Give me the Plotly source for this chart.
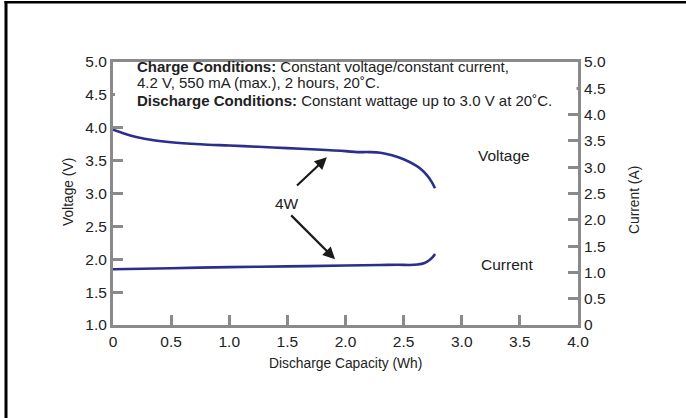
import plotly.graph_objects as go

# ---- data ----
cap_voltage = [0, 0.1, 0.2, 0.35, 0.5, 0.75, 1.0, 1.25, 1.5, 1.75, 2.0, 2.1, 2.2, 2.3, 2.4, 2.5, 2.6, 2.65, 2.7, 2.74, 2.77]
voltage = [3.97, 3.91, 3.86, 3.81, 3.78, 3.75, 3.73, 3.71, 3.69, 3.67, 3.645, 3.63, 3.63, 3.62, 3.58, 3.52, 3.43, 3.37, 3.28, 3.18, 3.08]

cap_current = [0, 0.5, 1.0, 1.5, 2.0, 2.3, 2.45, 2.55, 2.62, 2.68, 2.72, 2.75, 2.77]
current = [1.06, 1.08, 1.10, 1.115, 1.13, 1.14, 1.145, 1.14, 1.15, 1.18, 1.23, 1.29, 1.35]

x_ticks = [0, 0.5, 1.0, 1.5, 2.0, 2.5, 3.0, 3.5, 4.0]
x_ticklabels = ["0", "0.5", "1.0", "1.5", "2.0", "2.5", "3.0", "3.5", "4.0"]
v_ticks = [1.0, 1.5, 2.0, 2.5, 3.0, 3.5, 4.0, 4.5, 5.0]
v_ticklabels = ["1.0", "1.5", "2.0", "2.5", "3.0", "3.5", "4.0", "4.5", "5.0"]
i_ticks = [0, 0.5, 1.0, 1.5, 2.0, 2.5, 3.0, 3.5, 4.0, 4.5, 5.0]
i_ticklabels = ["0", "0.5", "1.0", "1.5", "2.0", "2.5", "3.0", "3.5", "4.0", "4.5", "5.0"]

# ---- layout geometry (pixels) ----
W, H = 686, 418
L, R, T, B = 113, 578, 62, 325


def px(x):
    return (x - L) / (R - L)


def py(y):
    return (B - y) / (B - T)


FONT = "Liberation Sans, Arial, Helvetica, sans-serif"
LINE_COLOR = "#2a2f8c"
AXIS_COLOR = "#8a8a8a"
TEXT_COLOR = "#222222"
TXT = 15.5
NOTE = 15
TITLE = 13.8

fig = go.Figure()
fig.add_trace(go.Scatter(x=cap_voltage, y=voltage, mode="lines",
                         line=dict(color=LINE_COLOR, width=2.6, shape="spline"),
                         yaxis="y", showlegend=False))
fig.add_trace(go.Scatter(x=cap_current, y=current, mode="lines",
                         line=dict(color=LINE_COLOR, width=2.6, shape="spline"),
                         yaxis="y2", showlegend=False))

axis_common = dict(showgrid=False, zeroline=False, showline=True, linecolor=AXIS_COLOR,
                   linewidth=3, ticks="inside", ticklen=10, tickwidth=3, tickcolor=AXIS_COLOR,
                   tickfont=dict(family=FONT, size=TXT, color=TEXT_COLOR))

fig.update_layout(
    width=W, height=H,
    margin=dict(l=L, r=W - R, t=T, b=H - B, autoexpand=False),
    paper_bgcolor="white", plot_bgcolor="white",
    xaxis=dict(range=[0, 4], tickvals=x_ticks, ticktext=x_ticklabels, mirror=True, **axis_common),
    yaxis=dict(range=[1, 5], tickvals=v_ticks, ticktext=v_ticklabels, **axis_common),
    yaxis2=dict(range=[0, 5], tickvals=i_ticks, ticktext=i_ticklabels, overlaying="y", side="right",
                **axis_common),
    font=dict(family=FONT, size=TXT, color=TEXT_COLOR),
)

shapes = [
    # white box behind the conditions text (hides ticks at 4.5)
    dict(type="rect", xref="paper", yref="paper", x0=px(115), x1=px(576.5), y0=py(110), y1=py(63.6),
         fillcolor="white", line=dict(width=0), layer="above"),
    # outer black frame (top and left edges)
    dict(type="rect", xref="paper", yref="paper", x0=px(4.5), x1=px(W), y0=py(3.5), y1=py(1),
         fillcolor="black", line=dict(width=0), layer="above"),
    dict(type="rect", xref="paper", yref="paper", x0=px(4.5), x1=px(7.5), y0=py(H), y1=py(1),
         fillcolor="black", line=dict(width=0), layer="above"),
]
fig.update_layout(shapes=shapes)


def label(x, y, text, size=TXT, anchor="center", angle=0):
    return dict(xref="paper", yref="paper", x=px(x), y=py(y), xanchor=anchor, yanchor="middle",
                showarrow=False, textangle=angle, font=dict(family=FONT, size=size, color=TEXT_COLOR),
                text=text)


annotations = [
    label(135, 66, "<b>Charge Conditions:</b> Constant voltage/constant current,", size=NOTE, anchor="left"),
    label(135, 82.5, "4.2 V, 550 mA (max.), 2 hours, 20˚C.", size=NOTE, anchor="left"),
    label(135, 100.5, "<b>Discharge Conditions:</b> Constant wattage up to 3.0 V at 20˚C.", size=NOTE,
          anchor="left"),
    label(504, 155, "Voltage"),
    label(507, 264, "Current"),
    label(287, 203, "4W"),
    # arrows
    dict(x=1.84, y=3.55, ax=1.57, ay=3.10, xref="x", yref="y", axref="x", ayref="y", text="",
         showarrow=True, arrowhead=2, arrowsize=1.1, arrowwidth=2.2, arrowcolor="#1a1a1a"),
    dict(x=1.91, y=2.00, ax=1.52, ay=2.69, xref="x", yref="y", axref="x", ayref="y", text="",
         showarrow=True, arrowhead=2, arrowsize=1.1, arrowwidth=2.2, arrowcolor="#1a1a1a"),
    # axis titles
    label(68, 192, "Voltage (V)", size=TITLE, angle=-90),
    label(634, 200, "Current (A)", size=TITLE, angle=-90),
    label(345, 363, "Discharge Capacity (Wh)", size=TITLE),
]
fig.update_layout(annotations=annotations)

fig.write_html("out.html", config={"displayModeBar": False},
               post_script="document.body.style.margin='0';document.body.style.overflow='hidden';")
